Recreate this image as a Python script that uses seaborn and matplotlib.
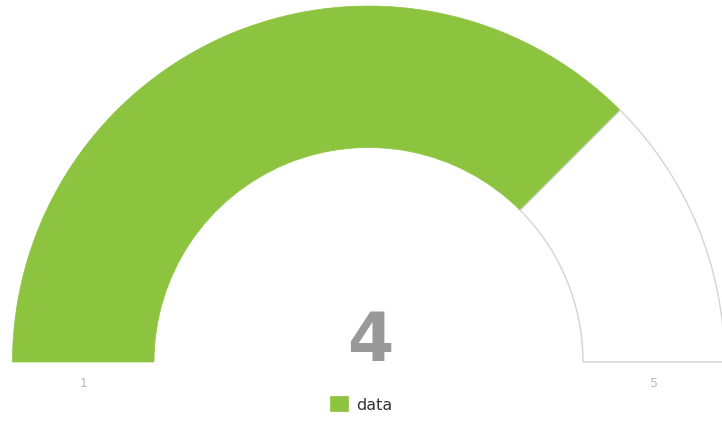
import matplotlib
matplotlib.use('Agg')
import matplotlib.pyplot as plt
import seaborn as sns

# gauge data
gauge_min = 1
gauge_max = 5
gauge_value = 4
series_name = 'data'
tick_labels = ['1', '5']

GREEN = '#8cc43f'
TRACK_EDGE = '#d4d4d4'

sns.set_theme(style='white')
plt.rcParams['font.family'] = ['DejaVu Sans']

W, H = 722, 431
fig = plt.figure(figsize=(W / 100, H / 100), dpi=100)
ax = fig.add_axes([0, 0, 1, 1])

# pixel geometry of the gauge
cx, cy = 368.5, 68.0   # centre, from bottom-left
r_px = 356.0
inner = 214.5 / r_px

filled = gauge_value - gauge_min
rest = gauge_max - gauge_value
hidden = gauge_max - gauge_min   # lower half, not shown

wedges, _ = ax.pie([filled, rest, hidden],
                   labels=[series_name, '', ''],
                   labeldistance=None,
                   startangle=180, counterclock=False,
                   radius=1.0,
                   wedgeprops=dict(width=1 - inner))
wedges[0].set_facecolor(GREEN)
wedges[0].set_edgecolor(GREEN)
wedges[0].set_linewidth(0.5)
wedges[1].set_facecolor('white')
wedges[1].set_edgecolor(TRACK_EDGE)
wedges[1].set_linewidth(1.0)
wedges[2].set_visible(False)

ax.set_aspect('auto')
ax.set_xlim(-cx / r_px, (W - cx) / r_px)
ax.set_ylim(-cy / r_px, (H - cy) / r_px)
ax.axis('off')

mid = (1 + inner) / 2
ax.text(-mid, -0.058, tick_labels[0], ha='center', va='center',
        fontsize=9, color='#bbbbbb')
ax.text(mid, -0.058, tick_labels[1], ha='center', va='center',
        fontsize=9, color='#bbbbbb')

ax.text(0.005, 0.058, str(gauge_value), ha='center', va='center',
        fontsize=48, fontweight='bold', color='#999999')

leg = ax.legend(handles=[wedges[0]], labels=[series_name],
                loc='center', bbox_to_anchor=(0.5, (H - 405) / H),
                frameon=False, handlelength=1.1, handleheight=1.1,
                handletextpad=0.5, fontsize=11.5)
for t in leg.get_texts():
    t.set_color('#333333')

fig.savefig('out.png', dpi=100)
